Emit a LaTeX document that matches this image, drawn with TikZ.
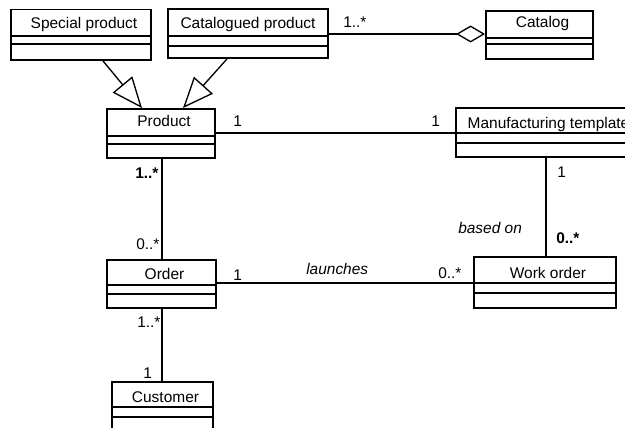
\documentclass[tikz,border=0pt]{standalone}
\usepackage{fontspec}
\setmainfont{Liberation Sans}
\usetikzlibrary{arrows.meta,fit}

% one UML class: name, left, top, right, first and second separator, bottom, title, title baseline
\newcommand\umlclass[9]{%
  \node[classbox, fit={(#2,#3) (#4,#7)}] (#1) {};
  \draw[sepline] (#2,#5) -- (#4,#5);
  \draw[sepline] (#2,#6) -- (#4,#6);
  \node[classname] (#1-title) at ({(#2+#4)/2+\titleshift},#9) {#8};
}
\newcommand\titleshift{3}

\begin{document}
\begin{tikzpicture}[x=0.75pt,y=-0.75pt,
  every node/.style={font=\fontsize{11.6pt}{13pt}\selectfont},
  classbox/.style={draw, line width=1.4pt, inner sep=0pt},
  sepline/.style={line width=1.2pt},
  classname/.style={anchor=base, inner sep=0pt},
  assoc/.style={line width=1pt},
  gen/.style={assoc, -{Triangle[open, length=23pt, width=19pt]}},
  agg/.style={assoc, -{Diamond[open, length=21.75pt, width=12.75pt]}},
  mult/.style={anchor=base west, inner sep=0pt},
  role/.style={anchor=base west, inner sep=0pt, font=\fontsize{11.6pt}{13pt}\selectfont\itshape},
]
\useasboundingbox (0,0) rectangle (625,428);
\clip (0,0) rectangle (625,428);

% classes
\umlclass{sp}{11}{9.5}{151}{36}{44}{60}{Special product}{29}
\umlclass{cat}{486}{11}{593}{38}{44}{59}{Catalog}{28}
\umlclass{prod}{107}{109}{215}{136}{144}{158}{Product}{127}
\umlclass{ord}{107}{260}{216}{285}{294}{308}{Order}{279}
\umlclass{wo}{474}{257}{616}{283}{293}{308}{Work order}{278}
\umlclass{cus}{112}{382}{213}{407}{417}{440}{Customer}{402}
% long titles fill their boxes and sit centred
\renewcommand\titleshift{0}
\umlclass{cp}{168}{9}{328}{36}{46}{58}{Catalogued product}{29}
\umlclass{mt}{456}{108}{641}{133}{143}{157}{Manufacturing template}{128}

% generalizations
\draw[gen] (sp.south -| 103,0) -- (prod.north -| 142,0);
\draw[gen] (cp.south -| 227,0) -- (prod.north -| 183,0);

% aggregation
\draw[agg] (cp.east |- 0,34) -- (cat.west |- 0,34);

% associations
\draw[assoc] (prod.east |- 0,133) -- (mt.west |- 0,133);
\draw[assoc] (mt.south -| 546,0) -- (wo.north -| 546,0);
\draw[assoc] (prod.south -| 162,0) -- (ord.north -| 162,0);
\draw[assoc] (ord.east |- 0,283) -- (wo.west |- 0,283);
\draw[assoc] (ord.south -| 162,0) -- (cus.north -| 162,0);

% multiplicities and role names
\node[mult] (m-cp) at (343,28) {1..*};
\node[mult] (m-prod-mt) at (233,127) {1};
\node[mult] (m-mt-prod) at (431,127) {1};
\node[mult, font=\fontsize{11.6pt}{13pt}\selectfont\bfseries] (m-prod-ord) at (135,178) {1..*};
\node[mult] (m-ord-prod) at (136,249) {0..*};
\node[mult] (m-ord-wo) at (233,280) {1};
\node[role] (r-launch) at (306,274.5) {launches};
\node[mult] (m-wo-ord) at (438,278) {0..*};
\node[mult] (m-mt-wo) at (557,177) {1};
\node[role] (r-based) at (458,233) {based on};
\node[mult, font=\fontsize{11.6pt}{13pt}\selectfont\bfseries] (m-wo-mt) at (556,243) {0..*};
\node[mult] (m-ord-cus) at (137,327) {1..*};
\node[mult] (m-cus-ord) at (143,378) {1};
\end{tikzpicture}
\end{document}
